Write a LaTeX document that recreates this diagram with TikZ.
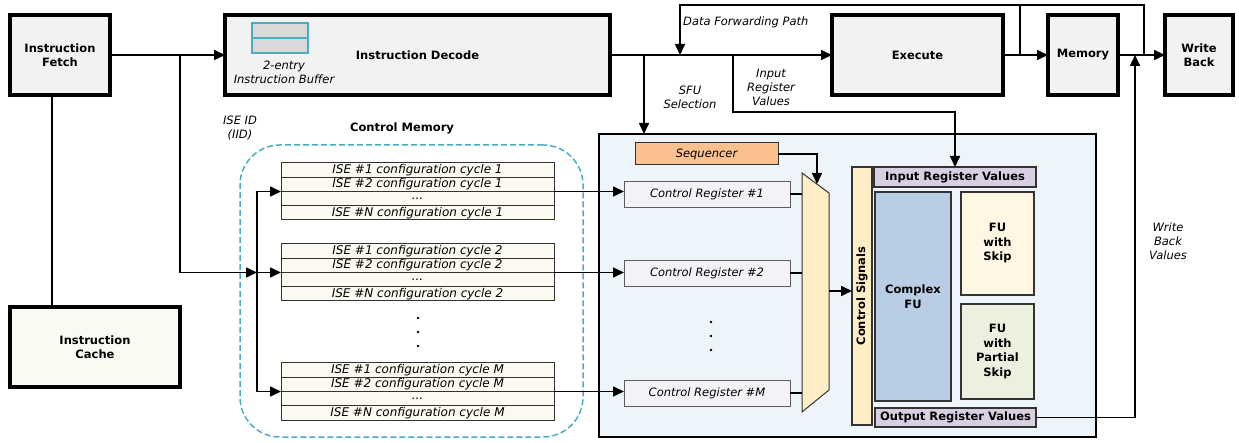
\documentclass[tikz,border=0pt]{standalone}
\usepackage{fontspec}
\setmainfont{DejaVu Sans}
\usetikzlibrary{arrows.meta,calc}
\definecolor{stagefill}{HTML}{F2F2F2}
\definecolor{cachefill}{HTML}{FAFAF2}
\definecolor{cfgfill}{HTML}{FCFAF0}
\definecolor{seqfill}{HTML}{FAC090}
\definecolor{muxfill}{HTML}{FDEEC6}
\definecolor{fubg}{HTML}{EEF5FA}
\definecolor{regfill}{HTML}{D9CFE3}
\definecolor{cfufill}{HTML}{B9CDE5}
\definecolor{skipfill}{HTML}{FFF7E4}
\definecolor{pskipfill}{HTML}{EBF1DE}
\definecolor{crfill}{HTML}{F4F2F8}
\definecolor{cmblue}{HTML}{4BACC6}
\definecolor{bufgray}{HTML}{D9D9D9}
\definecolor{edge}{HTML}{333333}
\begin{document}
\begin{tikzpicture}[x=1pt,y=-1pt,
  font=\fontsize{11.5}{14}\selectfont,
  line/.style={line width=1.6pt},
  arr/.style={line width=1.6pt,-{Triangle[length=11pt,width=10pt]}},
  stage/.style={draw,line width=3.2pt,fill=stagefill,anchor=north west,outer sep=0pt,
    font=\fontsize{11.5}{14}\selectfont\bfseries,align=center,inner sep=0pt},
  cfg/.style={draw=edge,line width=1pt,fill=cfgfill,anchor=north west,outer sep=0pt,inner sep=0pt,
    minimum width=273pt,minimum height=14.25pt,font=\fontsize{12}{12}\selectfont\itshape},
  creg/.style={draw=edge!80,line width=0.9pt,fill=crfill,anchor=north west,outer sep=0pt,inner sep=0pt,
    minimum width=166pt,minimum height=26pt,font=\fontsize{11.5}{14}\selectfont\itshape},
  fubox/.style={draw=edge,line width=1.2pt,anchor=north west,outer sep=0pt,inner sep=0pt,align=center,
    font=\fontsize{11.5}{14.5}\selectfont\bfseries},
  lbl/.style={align=center,inner sep=0pt,font=\fontsize{11.5}{14}\selectfont\itshape}
]
\useasboundingbox (0,0) rectangle (1239,443);

% ---------- pipeline stages ----------
\node[stage,minimum width=100pt,minimum height=80pt] (fetch) at (10,15) {Instruction\\Fetch};
\node[stage,minimum width=385pt,minimum height=80pt] (decode) at (225,15) {Instruction Decode};
\node[stage,minimum width=171pt,minimum height=80pt] (exec) at (832,15) {Execute};
\node[stage,minimum width=70pt,minimum height=80pt] (mem) at (1048,15) {Memory};
\node[stage,minimum width=68pt,minimum height=80pt] (wb) at (1165,15) {Write\\Back};
\node[stage,fill=cachefill,minimum width=170pt,minimum height=80pt] (cache) at (10,307) {Instruction\\Cache};

% instruction buffer
\node[draw=cmblue,line width=1.5pt,fill=bufgray,anchor=north west,minimum width=56pt,minimum height=15pt,inner sep=0pt,outer sep=0pt] (buf1) at (252,23) {};
\node[draw=cmblue,line width=1.5pt,fill=bufgray,anchor=north west,minimum width=56pt,minimum height=15pt,inner sep=0pt,outer sep=0pt] (buf2) at (252,38) {};
\node[lbl] (buflbl) at (284,72.5) {2-entry\\Instruction Buffer};

% ---------- functional unit box ----------
\node[draw,line width=1.8pt,fill=fubg,anchor=north west,minimum width=497pt,minimum height=303pt,inner sep=0pt,outer sep=0pt] (sfu) at (599,134) {};

% ---------- control memory ----------
\node[draw=cmblue,line width=1.5pt,dashed,dash pattern=on 6pt off 3pt,rounded corners=40pt,anchor=north west,
  minimum width=343pt,minimum height=292pt,inner sep=0pt,outer sep=0pt] (cm) at (240,145) {};
\node[font=\fontsize{11.5}{14}\selectfont\bfseries,inner sep=0pt] (cmlbl) at (402,128) {Control Memory};

\foreach \g/\t/\c in {1/163/1,2/244/2,3/363/M}{
  \node[cfg] (c\g-1) at (281,\t) {ISE \#1 configuration cycle \c};
  \node[cfg] (c\g-2) at (281,\t+14.25) {ISE \#2 configuration cycle \c};
  \node[cfg] (c\g-3) at (281,\t+28.5) {...};
  \node[cfg] (c\g-4) at (281,\t+42.75) {ISE \#N configuration cycle \c};
}
\foreach \yy in {318,332,346}{ \fill (418,\yy) circle (1.3pt); }

% ---------- control registers ----------
\node[creg] (cr1) at (624,181) {Control Register \#1};
\node[creg] (cr2) at (624,260) {Control Register \#2};
\node[creg] (cr3) at (624,380) {Control Register \#M};
\foreach \yy in {322,336,350}{ \fill (711,\yy) circle (1.3pt); }

\node[draw=edge,line width=1pt,fill=seqfill,anchor=north west,minimum width=143pt,minimum height=22pt,inner sep=0pt,outer sep=0pt,
  font=\fontsize{11.5}{14}\selectfont\itshape] (seq) at (635,143) {Sequencer};

% multiplexer
\draw[draw=edge,line width=1pt,fill=muxfill] (802,173) -- (829,193) -- (829,390) -- (802,412) -- cycle;
\coordinate (muxL) at (802,0);
\coordinate (muxtop) at (817,184);
\coordinate (muxout) at (829,291);

\node[fubox,fill=muxfill,minimum width=20pt,minimum height=258pt] (cs) at (852,167) {};
\node[rotate=90,font=\fontsize{11.5}{14}\selectfont\bfseries,inner sep=0pt] (cslbl) at (cs.center) {Control Signals};

\node[fubox,fill=regfill,minimum width=162pt,minimum height=20pt] (irv) at (874,167) {Input Register Values};
\node[fubox,fill=cfufill,minimum width=76pt,minimum height=209pt] (cfu) at (875,192) {Complex\\FU};
\node[fubox,fill=skipfill,minimum width=73pt,minimum height=103pt] (fus) at (961,192) {FU\\with\\Skip};
\node[fubox,fill=pskipfill,minimum width=73pt,minimum height=95pt] (fups) at (961,304) {FU\\with\\Partial\\Skip};
\node[fubox,fill=regfill,minimum width=161pt,minimum height=19pt] (orv) at (875,408) {Output Register Values};

% ---------- connectors ----------
\coordinate (fc) at (52,0);
\coordinate (fb) at (180,55);
\coordinate (bus) at (257,0);
\draw[line] (fetch.south -| fc) -- (cache.north -| fc);
\draw[arr] (fetch.east) -- (decode.west);
\draw[arr] (fb) |- (c2-2.south west -| bus);
\draw[line] (c1-2.south west -| bus) -- (c3-2.south west -| bus);
\foreach \g/\r in {1/cr1,2/cr2,3/cr3}{
  \draw[arr] (c\g-2.south west -| bus) -- (c\g-2.south west);
  \draw[arr] (c\g-2.south east) -- (c\g-2.south east -| \r.west);
  \draw[line] (\r.east) -- (\r.east -| muxL);
}
\draw[arr] (seq.east) -| (muxtop);
\draw[arr] (muxout) -- (muxout -| cs.west);

\draw[arr] (decode.east) -- (exec.west);
\draw[arr] (exec.east) -- (mem.west);
\draw[arr] (mem.east) -- (wb.west);

\coordinate (sfusel) at (644,55);
\draw[arr] (sfusel) -- (sfusel |- sfu.north);
\coordinate (irvtap) at (733,55);
\coordinate (irvbend) at (733,112);
\draw[arr] (irvtap) -- (irvbend) -| (irv.north);

\coordinate (df1) at (1020,55);
\coordinate (df2) at (1144,55);
\coordinate (dfL) at (680,55);
\draw[line] (df1) -- (1020,5) -- (1144,5) -- (df2);
\draw[arr] (1020,5) -| (dfL);

\coordinate (wbin) at (1135,55);
\draw[arr] (orv.east) -| (wbin);

% ---------- labels ----------
\node[lbl,anchor=west] (dfp) at (683,22) {Data Forwarding Path};
\node[lbl] (sfulbl) at (690,97) {SFU\\Selection};
\node[lbl] (irvlbl) at (771,87) {Input\\Register\\Values};
\node[lbl] (iid) at (240,128) {ISE ID\\(IID)};
\node[lbl] (wbv) at (1168,241) {Write\\Back\\Values};
\end{tikzpicture}
\end{document}
